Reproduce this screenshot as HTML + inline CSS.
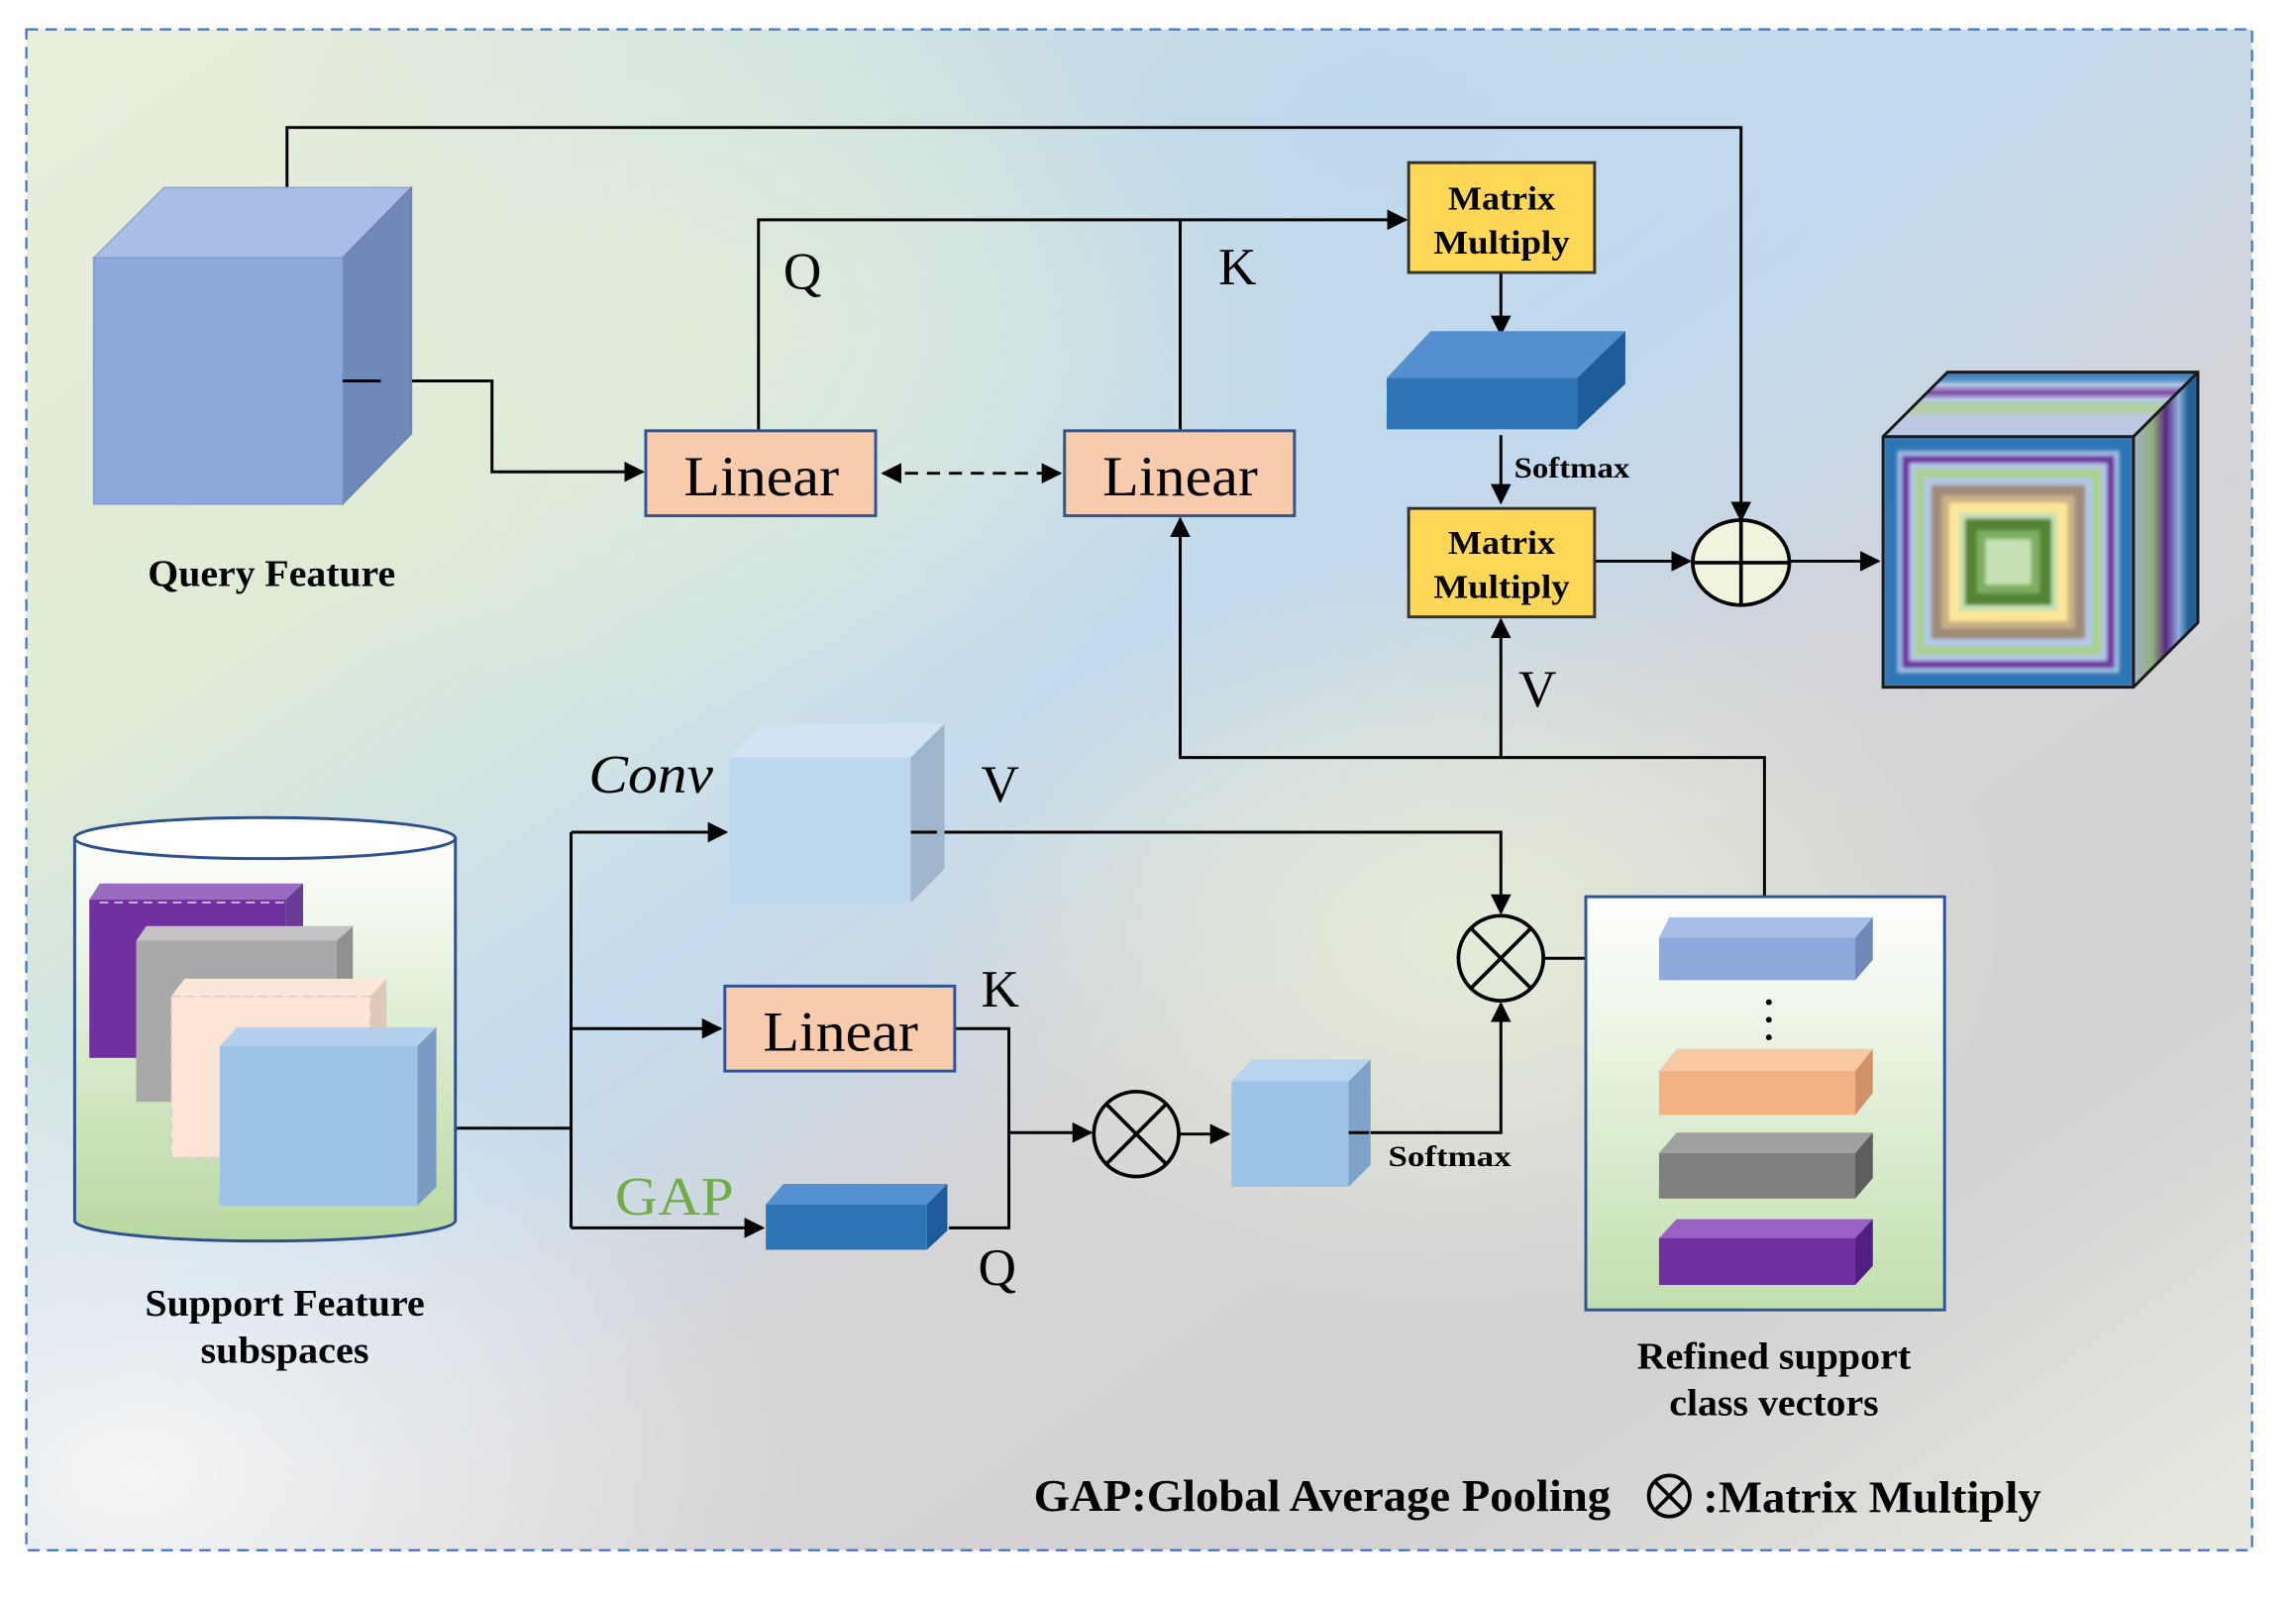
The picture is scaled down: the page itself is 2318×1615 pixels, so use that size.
<!DOCTYPE html>
<html><head><meta charset="utf-8"><style>
html,body{margin:0;padding:0;background:#fff;}
svg{display:block;}
text{font-family:"Liberation Serif",serif;}
</style></head><body>
<svg width="2318" height="1615" viewBox="0 0 1568 1092" preserveAspectRatio="none" xmlns="http://www.w3.org/2000/svg">
<defs>
<linearGradient id="bg" x1="0" y1="0" x2="1" y2="1">
<stop offset="0" stop-color="#e9eedd"/>
<stop offset="0.25" stop-color="#dfebd6"/>
<stop offset="0.45" stop-color="#c5dcee"/>
<stop offset="0.6" stop-color="#d6d4d6"/>
<stop offset="0.8" stop-color="#d2d1d3"/>
<stop offset="1" stop-color="#e8eadf"/>
</linearGradient>
<radialGradient id="bg2" cx="0.6" cy="0.05" r="0.5">
<stop offset="0" stop-color="#bcd6ee" stop-opacity="0.9"/>
<stop offset="1" stop-color="#bcd6ee" stop-opacity="0"/>
</radialGradient>
<radialGradient id="bg3" cx="0.65" cy="0.6" r="0.25">
<stop offset="0" stop-color="#e6eed8" stop-opacity="0.9"/>
<stop offset="1" stop-color="#e6eed8" stop-opacity="0"/>
</radialGradient>
<radialGradient id="bg4" cx="0.05" cy="0.95" r="0.3">
<stop offset="0" stop-color="#f4f4f4" stop-opacity="1"/>
<stop offset="1" stop-color="#f4f4f4" stop-opacity="0"/>
</radialGradient>
<radialGradient id="bg5" cx="0.3" cy="0.2" r="0.25">
<stop offset="0" stop-color="#e4eed8" stop-opacity="0.8"/>
<stop offset="1" stop-color="#e4eed8" stop-opacity="0"/>
</radialGradient>
<linearGradient id="cyl" x1="0" y1="0" x2="0" y2="1">
<stop offset="0" stop-color="#ffffff"/>
<stop offset="1" stop-color="#b8d8a0"/>
</linearGradient>
<linearGradient id="ref" x1="0" y1="0" x2="0" y2="1">
<stop offset="0" stop-color="#ffffff"/>
<stop offset="1" stop-color="#c2dfae"/>
</linearGradient>
<linearGradient id="ctop" gradientUnits="userSpaceOnUse" x1="0" y1="254" x2="0" y2="298">
<stop offset="0" stop-color="#2e75b6"/>
<stop offset="0.12" stop-color="#5b93c8"/>
<stop offset="0.2" stop-color="#b4c7e7"/>
<stop offset="0.32" stop-color="#7e4aa8"/>
<stop offset="0.42" stop-color="#b4c7e7"/>
<stop offset="0.55" stop-color="#b0d294"/>
<stop offset="0.7" stop-color="#bcc8e4"/>
<stop offset="1" stop-color="#bcc8e4"/>
</linearGradient>
<linearGradient id="cright" gradientUnits="userSpaceOnUse" x1="1457" y1="0" x2="1501" y2="0">
<stop offset="0" stop-color="#a8b0c8"/>
<stop offset="0.3" stop-color="#8fb07a"/>
<stop offset="0.5" stop-color="#5a2a80"/>
<stop offset="0.7" stop-color="#8eaedc"/>
<stop offset="0.85" stop-color="#245f96"/>
<stop offset="1" stop-color="#245f96"/>
</linearGradient>
<filter id="bl" x="-5%" y="-5%" width="110%" height="110%"><feGaussianBlur stdDeviation="1.3"/></filter>
<clipPath id="fc"><rect x="1286" y="298" width="171" height="171"/></clipPath>
<marker id="ah" viewBox="0 0 10 10" refX="9" refY="5" markerWidth="7" markerHeight="7" orient="auto-start-reverse">
<path d="M0,0 L10,5 L0,10 z" fill="#000"/>
</marker>
</defs>
<rect x="0" y="0" width="1568" height="1092" fill="#fff"/>
<rect x="18" y="20" width="1520" height="1038" fill="url(#bg)"/>
<rect x="18" y="20" width="1520" height="1038" fill="url(#bg2)"/>
<rect x="18" y="20" width="1520" height="1038" fill="url(#bg3)"/>
<rect x="18" y="20" width="1520" height="1038" fill="url(#bg4)"/>
<rect x="18" y="20" width="1520" height="1038" fill="url(#bg5)"/>
<rect x="18" y="20" width="1520" height="1038" fill="none" stroke="#4472c4" stroke-width="1.5" stroke-dasharray="8,5"/>

<g stroke="#000" stroke-width="2" fill="none">
<polyline points="196,128 196,87 1189,87 1189,355" marker-end="url(#ah)"/>
<polyline points="234,260 336,260 336,322 439,322" marker-end="url(#ah)"/>
<line x1="603" y1="323" x2="724" y2="323" stroke-dasharray="9,6" marker-start="url(#ah)" marker-end="url(#ah)"/>
<polyline points="518,294 518,150 960,150" marker-end="url(#ah)"/>
<line x1="806" y1="294" x2="806" y2="150"/>
<line x1="1025" y1="186" x2="1025" y2="228" marker-end="url(#ah)"/>
<line x1="1025" y1="297" x2="1025" y2="343" marker-end="url(#ah)"/>
<line x1="1089" y1="383" x2="1154" y2="383" marker-end="url(#ah)"/>
<line x1="1222" y1="383" x2="1283" y2="383" marker-end="url(#ah)"/>
<polyline points="1205,612 1205,517 806,517 806,354" marker-end="url(#ah)"/>
<line x1="1025" y1="517" x2="1025" y2="423" marker-end="url(#ah)"/>
<polyline points="622,568 1025,568 1025,623" marker-end="url(#ah)"/>
<line x1="285" y1="770" x2="390" y2="770"/>
<line x1="390" y1="568" x2="390" y2="838"/>
<line x1="390" y1="568" x2="496" y2="568" marker-end="url(#ah)"/>
<line x1="390" y1="702" x2="492" y2="702" marker-end="url(#ah)"/>
<line x1="390" y1="838" x2="521" y2="838" marker-end="url(#ah)"/>
<polyline points="652,702 689,702 689,838 648,838"/>
<line x1="689" y1="773" x2="745" y2="773" marker-end="url(#ah)"/>
<line x1="805" y1="774" x2="839" y2="774" marker-end="url(#ah)"/>
<polyline points="921,773 1025,773 1025,685" marker-end="url(#ah)"/>
<line x1="1054" y1="654" x2="1131" y2="654" marker-end="url(#ah)"/>
</g>

<!-- Query cube -->
<polygon points="64,176 112,128 281,128 234,176" fill="#a9bee7" stroke="#8fa3cf"/>
<polygon points="234,176 281,128 281,296 234,344" fill="#7189ba" stroke="#6a7fae"/>
<rect x="64" y="176" width="170" height="168" fill="#8eaadc" stroke="#7f98c8"/>
<line x1="234" y1="260" x2="260" y2="260" stroke="#000" stroke-width="2"/>
<text x="101" y="400" font-size="26" font-weight="bold" textLength="169" lengthAdjust="spacingAndGlyphs">Query Feature</text>

<!-- Linear boxes -->
<g stroke="#2f5597" stroke-width="2" fill="#f8cbad">
<rect x="441" y="294" width="157" height="58"/>
<rect x="727" y="294" width="157" height="58"/>
<rect x="495" y="673" width="157" height="58"/>
</g>
<g font-size="39">
<text x="467" y="338" textLength="106" lengthAdjust="spacingAndGlyphs">Linear</text>
<text x="753" y="338" textLength="106" lengthAdjust="spacingAndGlyphs">Linear</text>
<text x="521" y="717" textLength="106" lengthAdjust="spacingAndGlyphs">Linear</text>
</g>
<text x="548" y="197" font-size="36" text-anchor="middle">Q</text>
<text x="845" y="194" font-size="36" text-anchor="middle">K</text>

<!-- Matrix boxes -->
<g stroke="#333" stroke-width="2" fill="#ffd757">
<rect x="962" y="111" width="127" height="75"/>
<rect x="962" y="347" width="127" height="74"/>
</g>
<g font-size="23" font-weight="bold">
<text x="989" y="143" textLength="73" lengthAdjust="spacingAndGlyphs">Matrix</text><text x="979" y="173" textLength="93" lengthAdjust="spacingAndGlyphs">Multiply</text>
<text x="989" y="378" textLength="73" lengthAdjust="spacingAndGlyphs">Matrix</text><text x="979" y="408" textLength="93" lengthAdjust="spacingAndGlyphs">Multiply</text>
</g>
<!-- blue slab -->
<polygon points="947,258 977,226 1110,226 1077,258" fill="#548fcf"/>
<polygon points="1077,258 1110,226 1110,262 1077,293" fill="#1f5c9c"/>
<rect x="947" y="258" width="130" height="35" fill="#2e75b6"/>
<text x="1034" y="326" font-size="20" font-weight="bold" textLength="79" lengthAdjust="spacingAndGlyphs">Softmax</text>

<!-- plus circle -->
<ellipse cx="1189" cy="384" rx="33" ry="29" fill="#eef5dc" stroke="#000" stroke-width="2.5"/>
<line x1="1156" y1="384" x2="1222" y2="384" stroke="#000" stroke-width="2.5"/>
<line x1="1189" y1="355" x2="1189" y2="413" stroke="#000" stroke-width="2.5"/>

<!-- colorful cube -->
<polygon points="1286,298 1330,254 1501,254 1457,298" fill="url(#ctop)"/>
<polygon points="1457,298 1501,254 1501,425 1457,469" fill="url(#cright)"/>
<g clip-path="url(#fc)">
<g filter="url(#bl)">
<rect x="1286" y="298" width="171" height="171" fill="#2e75b6"/>
<rect x="1296" y="308" width="151" height="151" fill="#9dc3e6"/>
<rect x="1299" y="311" width="145" height="145" fill="#7030a0"/>
<rect x="1304" y="316" width="135" height="135" fill="#b4c7e7"/>
<rect x="1308" y="320" width="127" height="127" fill="#a9d18e"/>
<rect x="1314" y="326" width="115" height="115" fill="#b4c7e7"/>
<rect x="1319" y="331" width="105" height="105" fill="#a08a78"/>
<rect x="1326" y="338" width="91" height="91" fill="#c8b088"/>
<rect x="1331" y="343" width="81" height="81" fill="#ffe699"/>
<rect x="1338" y="350" width="67" height="67" fill="#c5e0b4"/>
<rect x="1342" y="354" width="59" height="59" fill="#548235"/>
<rect x="1350" y="362" width="43" height="43" fill="#7fae62"/>
<rect x="1356" y="368" width="31" height="31" fill="#c5e0b4"/>
</g>
</g>
<g fill="none" stroke="#1a1a1a" stroke-width="2">
<polygon points="1286,298 1330,254 1501,254 1501,425 1457,469 1286,469"/>
<polyline points="1286,298 1457,298 1457,469"/>
<line x1="1457" y1="298" x2="1501" y2="254"/>
</g>

<text x="1050" y="482" font-size="36" text-anchor="middle">V</text>
<text x="402" y="541" font-size="37" font-style="italic" textLength="85" lengthAdjust="spacingAndGlyphs">Conv</text>
<text x="683" y="547" font-size="36" text-anchor="middle">V</text>
<!-- conv cube -->
<polygon points="498,517 521,494 645,494 622,517" fill="#d2e3f4"/>
<polygon points="622,517 645,494 645,593 622,616" fill="#a0b6cc"/>
<rect x="498" y="517" width="124" height="99" fill="#bdd7ee"/>
<line x1="622" y1="568" x2="640" y2="568" stroke="#000" stroke-width="2"/>

<!-- cylinder -->
<path d="M51,572 L51,833 A130,14 0 0 0 311,833 L311,572" fill="url(#cyl)" stroke="#2f4f8f" stroke-width="2"/>
<ellipse cx="181" cy="572" rx="130" ry="14" fill="#fff" stroke="#2f4f8f" stroke-width="2"/>
<polygon points="61,614 68,603 207,603 195,614" fill="#9a6cc0"/>
<polygon points="195,614 207,603 207,712 195,722" fill="#6a3a98"/>
<rect x="61" y="614" width="134" height="108" fill="#7030a0"/>
<line x1="68" y1="616" x2="195" y2="616" stroke="#ddd" stroke-dasharray="6,4"/>
<polygon points="93,642 100,632 241,632 230,642" fill="#c4c4c4"/>
<polygon points="230,642 241,632 241,742 230,752" fill="#909090"/>
<rect x="93" y="642" width="137" height="110" fill="#a9a9a9"/>
<polygon points="117,680 126,668 264,668 253,680" fill="#fbe6d8"/>
<polygon points="253,680 264,668 264,778 253,790" fill="#e0c8b8"/>
<rect x="117" y="680" width="136" height="110" fill="#fce4d6" stroke="#ccc" stroke-dasharray="6,4"/>
<polygon points="150,714 162,701 298,701 285,714" fill="#b4d0ec"/>
<polygon points="285,714 298,701 298,810 285,823" fill="#7a9cc4"/>
<rect x="150" y="714" width="135" height="109" fill="#9dc3e6"/>
<g font-size="26" font-weight="bold">
<text x="99" y="898" textLength="191" lengthAdjust="spacingAndGlyphs">Support Feature</text>
<text x="137" y="930" textLength="115" lengthAdjust="spacingAndGlyphs">subspaces</text>
<text x="1118" y="934" textLength="187" lengthAdjust="spacingAndGlyphs">Refined support</text>
<text x="1140" y="966" textLength="143" lengthAdjust="spacingAndGlyphs">class vectors</text>
</g>

<text x="683" y="687" font-size="36" text-anchor="middle">K</text>
<text x="681" y="877" font-size="36" text-anchor="middle">Q</text>
<text x="420" y="829" font-size="37" fill="#70ad47" textLength="81" lengthAdjust="spacingAndGlyphs">GAP</text>
<!-- GAP slab -->
<polygon points="523,822 535,808 647,808 633,822" fill="#5590d0"/>
<polygon points="633,822 647,808 647,840 633,853" fill="#1f5c9c"/>
<rect x="523" y="822" width="110" height="31" fill="#2e75b6"/>

<!-- times circles -->
<g stroke="#000" stroke-width="2.5" fill="none">
<circle cx="776" cy="774" r="29"/>
<line x1="756" y1="754" x2="796" y2="794"/><line x1="796" y1="754" x2="756" y2="794"/>
<circle cx="1025" cy="654" r="29"/>
<line x1="1005" y1="634" x2="1045" y2="674"/><line x1="1045" y1="634" x2="1005" y2="674"/>
</g>
<!-- small cube -->
<polygon points="841,738 855,723 936,723 921,738" fill="#b8d4ee"/>
<polygon points="921,738 936,723 936,795 921,810" fill="#7ea2c8"/>
<rect x="841" y="738" width="80" height="72" fill="#9dc3e6"/>
<line x1="921" y1="773" x2="935" y2="773" stroke="#000" stroke-width="2"/>
<text x="948" y="796" font-size="20" font-weight="bold" textLength="84" lengthAdjust="spacingAndGlyphs">Softmax</text>

<!-- refined box -->
<rect x="1083" y="612" width="245" height="282" fill="url(#ref)" stroke="#2f5597" stroke-width="2"/>
<polygon points="1133,640 1140,626 1279,626 1267,640" fill="#a9bee7"/>
<polygon points="1267,640 1279,626 1279,655 1267,669" fill="#6f88b8"/>
<rect x="1133" y="640" width="134" height="29" fill="#8eaadc"/>
<circle cx="1208" cy="684" r="2" fill="#000"/><circle cx="1208" cy="696" r="2" fill="#000"/><circle cx="1208" cy="708" r="2" fill="#000"/>
<polygon points="1133,731 1145,716 1279,716 1267,731" fill="#f8c8a4"/>
<polygon points="1267,731 1279,716 1279,746 1267,761" fill="#d0926a"/>
<rect x="1133" y="731" width="134" height="30" fill="#f4b183"/>
<polygon points="1133,787 1145,773 1279,773 1267,787" fill="#a0a0a0"/>
<polygon points="1267,787 1279,773 1279,804 1267,818" fill="#5e5e5e"/>
<rect x="1133" y="787" width="134" height="31" fill="#808080"/>
<polygon points="1133,845 1145,832 1279,832 1267,845" fill="#9a60c4"/>
<polygon points="1267,845 1279,832 1279,864 1267,877" fill="#502080"/>
<rect x="1133" y="845" width="134" height="32" fill="#7030a0"/>

<!-- legend -->
<text x="706" y="1031" font-size="31" font-weight="bold" textLength="394" lengthAdjust="spacingAndGlyphs">GAP:Global Average Pooling</text>
<g stroke="#000" stroke-width="2.5" fill="none">
<circle cx="1140" cy="1021" r="14"/>
<line x1="1130" y1="1011" x2="1150" y2="1031"/><line x1="1150" y1="1011" x2="1130" y2="1031"/>
</g>
<text x="1163" y="1032" font-size="31" font-weight="bold" textLength="231" lengthAdjust="spacingAndGlyphs">:Matrix Multiply</text>
</svg>
</body></html>
